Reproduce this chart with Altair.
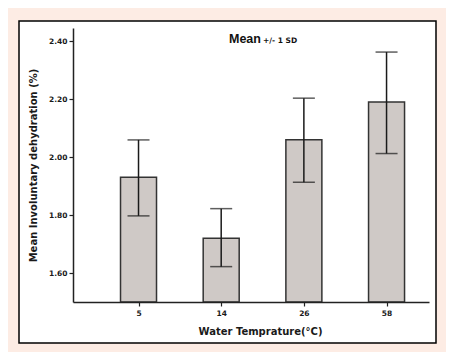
import altair as alt
import pandas as pd

categories = ["5", "14", "26", "58"]
means = [1.93, 1.72, 2.06, 2.19]
sd_low = [1.797, 1.622, 1.913, 2.012]
sd_high = [2.059, 1.822, 2.203, 2.362]
y_ticks = [1.60, 1.80, 2.00, 2.20, 2.40]

df = pd.DataFrame({
    "pos": list(range(1, len(categories) + 1)),
    "cat": categories,
    "mean": means,
    "lo": sd_low,
    "hi": sd_high,
})

FONT = "Liberation Sans"
WIDE = "DejaVu Sans"
label_expr = "[" + ",".join(f"'{c}'" for c in categories) + "][datum.value - 1]"

xscale = alt.Scale(domain=[0.268, 4.453], nice=False, zero=False)
yscale = alt.Scale(domain=[1.5, 2.445], nice=False, zero=False)

xaxis = alt.Axis(
    values=[1, 2, 3, 4], labelExpr=label_expr, grid=False, tickSize=4, zindex=1,
    title="Water Temprature(°C)", titleX=187, titleY=29, titleBaseline="middle",
    titleFont=WIDE, titleFontSize=10, titleFontWeight="bold", titleColor="#1a1a1a",
    labelFont=WIDE, labelFontSize=7.5, labelFontWeight="bold", labelColor="#1a1a1a",
    domainColor="#222", tickColor="#222", domainWidth=1.5, tickWidth=1.2, labelPadding=3,
)
yaxis = alt.Axis(
    values=y_ticks, format=".2f", grid=False, tickSize=4, zindex=1,
    title="Mean Involuntary dehydration (%)", titleX=-40, titleY=137,
    titleBaseline="middle", titleAlign="center",
    titleFont=WIDE, titleFontSize=10, titleFontWeight="bold", titleColor="#1a1a1a",
    labelFont=WIDE, labelFontSize=7.5, labelFontWeight="bold", labelColor="#1a1a1a",
    domainColor="#222", tickColor="#222", domainWidth=1.5, tickWidth=1.2, labelPadding=2,
)

base = alt.Chart(df)

frame = base.mark_rect(fill="white", stroke="black", strokeWidth=1.5).encode(
    x=alt.value(-54), x2=alt.value(363), y=alt.value(-7), y2=alt.value(315)
).transform_filter("datum.pos == 1")

bars = base.mark_bar(size=36, color="#cfc9c6", stroke="#333", strokeWidth=1.5).encode(
    x=alt.X("pos:Q", scale=xscale, axis=xaxis),
    y=alt.Y("mean:Q", scale=yscale, axis=yaxis),
    y2=alt.datum(1.5),
)

err = base.mark_rule(color="#1a1a1a", strokeWidth=1.5).encode(
    x="pos:Q", y="lo:Q", y2="hi:Q"
)
cap_lo = base.mark_tick(color="#1a1a1a", size=22, thickness=1.5, orient="horizontal").encode(
    x="pos:Q", y="lo:Q"
)
cap_hi = base.mark_tick(color="#1a1a1a", size=22, thickness=1.5, orient="horizontal").encode(
    x="pos:Q", y="hi:Q"
)

t1 = base.mark_text(text="Mean", font=FONT, fontSize=12.5, fontWeight="bold",
                    align="left", baseline="alphabetic", color="#111").encode(
    x=alt.value(156), y=alt.value(15)
).transform_filter("datum.pos == 1")
t2 = base.mark_text(text="+/- 1 SD", font=WIDE, fontSize=7.5, fontWeight="bold",
                    align="left", baseline="alphabetic", color="#111").encode(
    x=alt.value(190), y=alt.value(15)
).transform_filter("datum.pos == 1")

chart = alt.layer(frame, bars, err, cap_lo, cap_hi, t1, t2).properties(
    width=356, height=274,
    autosize=alt.AutoSizeParams(type="none"),
    padding={"left": 65, "top": 20, "right": 17, "bottom": 50},
    background="#fdece4",
).configure_view(stroke=None)

chart.save("out.html", embed_options={"renderer": "svg", "actions": False})
